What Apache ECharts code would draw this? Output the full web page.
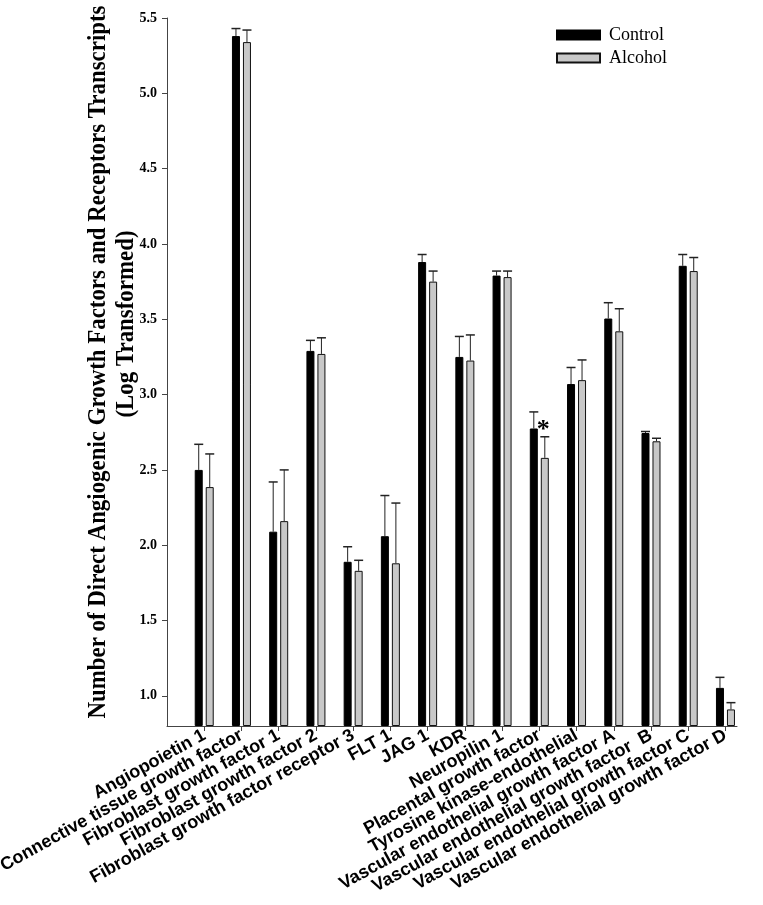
<!DOCTYPE html>
<html lang="en">
<head>
    <meta charset="UTF-8">
    <title>Angiogenic growth factors</title>
    <script src="https://cdn.jsdelivr.net/npm/echarts@6/dist/echarts.min.js"></script>
    <style>
        html, body { margin: 0; padding: 0; background: #fff; }
        #main { width: 763px; height: 905px; }
    </style>
</head>
<body>
<div id="main"></div>
<script>
    // categories (left to right)
    var categories = [
        'Angiopoietin 1',
        'Connective tissue growth factor',
        'Fibroblast growth factor 1',
        'Fibroblast growth factor 2',
        'Fibroblast growth factor receptor 3',
        'FLT 1',
        'JAG 1',
        'KDR',
        'Neuropilin 1',
        'Placental growth factor',
        'Tyrosine kinase-endothelial',
        'Vascular endothelial growth factor A',
        'Vascular endothelial growth factor  B',
        'Vascular endothelial growth factor C',
        'Vascular endothelial growth factor D'
    ];
    var controlMean = [2.50, 5.38, 2.09, 3.29, 1.89, 2.06, 3.88, 3.25, 3.79, 2.775, 3.07, 3.505, 2.745, 3.855, 1.053];
    var controlErr  = [0.17, 0.05, 0.33, 0.07, 0.10, 0.27, 0.05, 0.136, 0.03, 0.11, 0.11, 0.105, 0.01, 0.075, 0.07];
    var alcoholMean = [2.386, 5.34, 2.16, 3.27, 1.83, 1.88, 3.75, 3.226, 3.78, 2.58, 3.096, 3.42, 2.69, 3.82, 0.91];
    var alcoholErr  = [0.22, 0.08, 0.34, 0.107, 0.07, 0.40, 0.07, 0.17, 0.04, 0.14, 0.134, 0.15, 0.02, 0.09, 0.045];
    var alcoholSig  = [0, 0, 0, 0, 0, 0, 0, 0, 0, 1, 0, 0, 0, 0, 0];
    var yTicks = [1.0, 1.5, 2.0, 2.5, 3.0, 3.5, 4.0, 4.5, 5.0, 5.5];
    var xTicks = categories.map(function (c, i) { return i; });

    var barW = 8, barGapPx = 3;
    var shift = (barW + barGapPx) / 2;

    function barData(means) {
        return means.map(function (v, i) { return [i, v]; });
    }
    function errData(means, errs, sig) {
        return means.map(function (v, i) { return [i, v, v + errs[i], sig ? sig[i] : 0]; });
    }
    function errRender(dx) {
        return function (params, api) {
            var lo = api.coord([api.value(0), api.value(1)]);
            var hi = api.coord([api.value(0), api.value(2)]);
            var x = lo[0] + dx;
            var kids = [
                {type: 'line', shape: {x1: x, y1: lo[1], x2: x, y2: hi[1]}, style: {stroke: '#222', lineWidth: 1}},
                {type: 'line', shape: {x1: x - 4.5, y1: hi[1], x2: x + 4.5, y2: hi[1]}, style: {stroke: '#222', lineWidth: 1.5}}
            ];
            if (api.value(3)) {
                kids.push({type: 'text', x: x - 1.5, y: hi[1] + 7, style: {
                    text: '*', fill: '#000', font: 'bold 26px "Liberation Serif"',
                    textAlign: 'center', textVerticalAlign: 'bottom'
                }});
            }
            return {type: 'group', children: kids};
        };
    }

    var chart = echarts.init(document.getElementById('main'));
    var titleFont = 'bold 26px "Liberation Serif"';
    var option = {
        backgroundColor: '#fff',
        animation: false,
        grid: {left: 167, right: 26, top: 18, bottom: 179, containLabel: false, outerBoundsMode: 'none'},
        legend: {
            orient: 'vertical', left: 556, top: 26, padding: 0,
            itemWidth: 43, itemHeight: 9, itemGap: 5,
            icon: 'rect',
            textStyle: {fontFamily: 'Liberation Serif', fontSize: 18, color: '#000', padding: [0, 0, 0, 4]},
            data: ['Control', 'Alcohol']
        },
        xAxis: {
            type: 'value', min: -1, max: 14.31,
            splitLine: {show: false},
            axisLine: {show: true, onZero: false, lineStyle: {color: '#444', width: 1}},
            axisTick: {show: true, customValues: xTicks, length: 5, lineStyle: {color: '#444'}},
            axisLabel: {
                customValues: xTicks, rotate: 29, margin: 8,
                fontFamily: 'Liberation Sans', fontWeight: 'bold', fontSize: 18, color: '#000',
                formatter: function (v) { return categories[Math.round(v)] || ''; }
            }
        },
        yAxis: {
            type: 'value', min: 0.8, max: 5.5, startValue: 0.8,
            splitLine: {show: false},
            axisLine: {show: true, onZero: false, lineStyle: {color: '#444', width: 1}},
            axisTick: {show: true, customValues: yTicks, length: 5, lineStyle: {color: '#444'}},
            axisLabel: {
                customValues: yTicks, margin: 10,
                fontFamily: 'Liberation Serif', fontWeight: 'bold', fontSize: 14, color: '#000',
                formatter: function (v) { return v.toFixed(1); }
            }
        },
        graphic: [
            {type: 'text', x: 98, y: 362, rotation: Math.PI / 2, scaleX: 0.88, style: {
                text: 'Number of Direct Angiogenic Growth Factors and Receptors Transcripts',
                font: titleFont, fill: '#000', textAlign: 'center', textVerticalAlign: 'middle'
            }},
            {type: 'text', x: 126, y: 324, rotation: Math.PI / 2, scaleX: 0.88, style: {
                text: '(Log Transformed)',
                font: titleFont, fill: '#000', textAlign: 'center', textVerticalAlign: 'middle'
            }}
        ],
        series: [
            {
                name: 'Control', type: 'bar', barWidth: barW, barGap: (barGapPx / barW * 100) + '%',
                itemStyle: {color: '#000', borderColor: '#000', borderWidth: 1},
                data: barData(controlMean)
            },
            {
                name: 'Alcohol', type: 'bar', barWidth: barW,
                itemStyle: {color: '#c8c8c8', borderColor: '#111', borderWidth: 1},
                data: barData(alcoholMean)
            },
            {
                type: 'custom', renderItem: errRender(-shift), z: 5,
                encode: {x: 0, y: [1, 2]}, data: errData(controlMean, controlErr)
            },
            {
                type: 'custom', renderItem: errRender(shift), z: 5,
                encode: {x: 0, y: [1, 2]}, data: errData(alcoholMean, alcoholErr, alcoholSig)
            }
        ]
    };
    chart.setOption(option);
</script>
</body>
</html>
